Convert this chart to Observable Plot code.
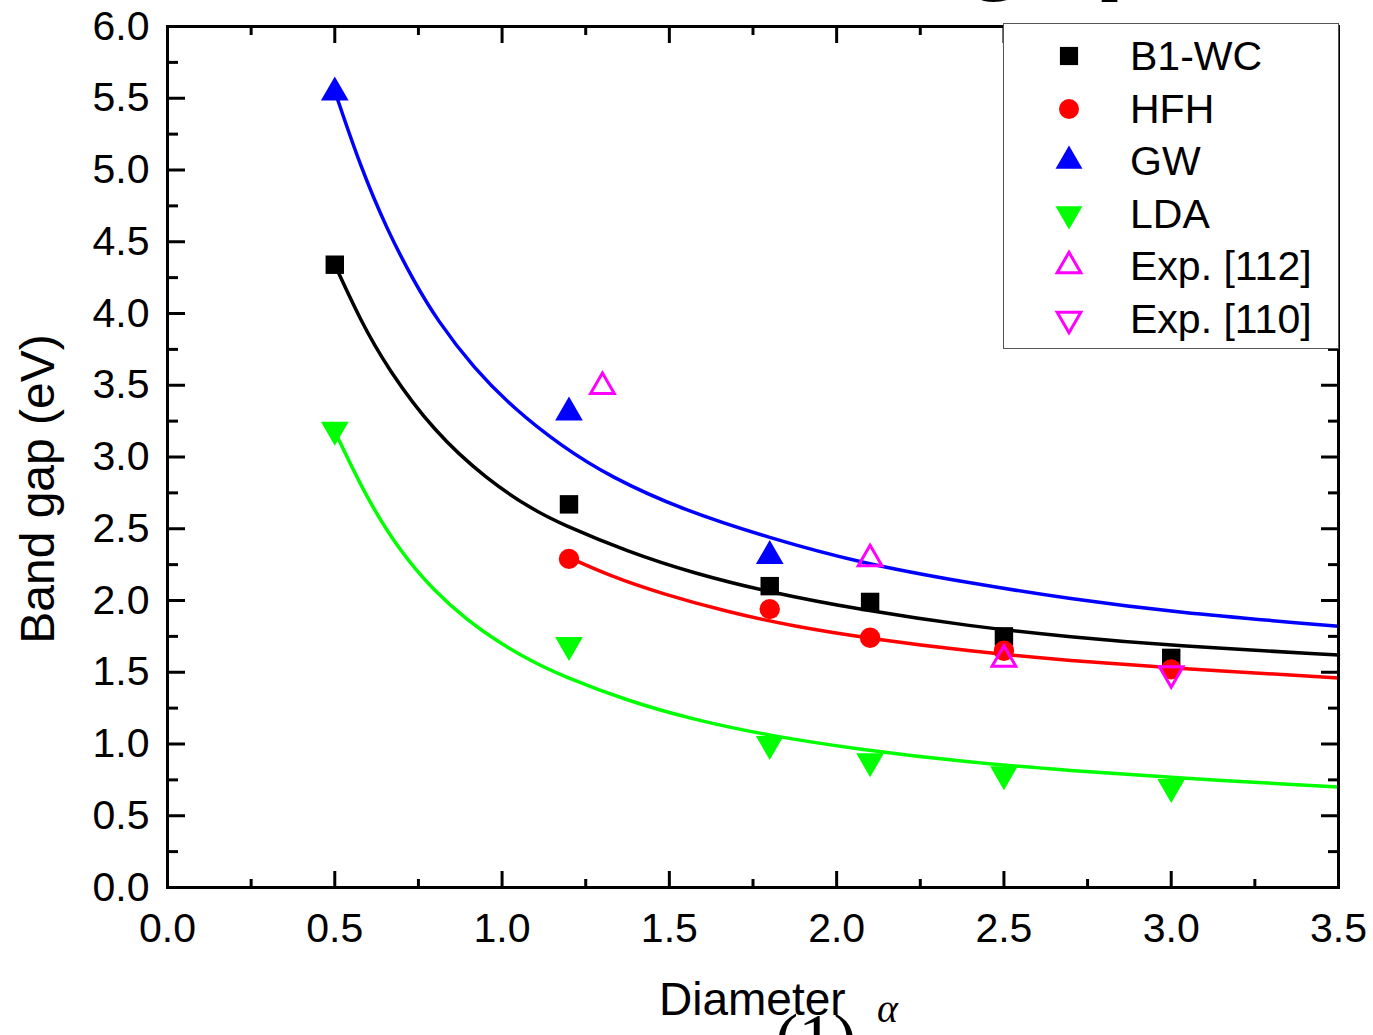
<!DOCTYPE html>
<html>
<head>
<meta charset="utf-8">
<script src="https://cdn.jsdelivr.net/npm/d3@7"></script>
<script src="https://cdn.jsdelivr.net/npm/@observablehq/plot@0.6"></script>
<style>
  body { margin: 0; background: #fff; }
  #wrap { position: relative; width: 1373px; height: 1035px; overflow: hidden; background: #fff;
          font-family: "Liberation Sans", Arial, sans-serif; color: #000; }
  #wrap svg.plot { position: absolute; left: 0; top: 0; }
  .legend { position: absolute; left: 1003px; top: 23px; width: 336px; height: 326px;
            box-sizing: border-box; border: 1px solid #555; background: #fff; }
  .legend .row { position: absolute; left: 0; width: 336px; height: 50px; }
  .legend .row svg { position: absolute; left: 45px; top: 5px; }
  .legend .row span { position: absolute; left: 126px; top: 0; line-height: 50px; font-size: 41px; white-space: nowrap; }
  .toptitle { position: absolute; left: 644px; top: -118px; font-size: 114px; font-weight: bold; line-height: 114px; white-space: nowrap; }
  .xlab { position: absolute; font-size: 46px; white-space: nowrap; }
  .paren { position: absolute; font-family: "Liberation Serif", "Times New Roman", serif; font-size: 70px; white-space: nowrap; }
  .alpha { position: absolute; font-family: "Liberation Serif", "Times New Roman", serif; font-style: italic; font-size: 40px; white-space: nowrap; }
</style>
</head>
<body>
<div id="wrap"></div>
<script>
// ---- data ----
const b1X = [0.5, 1.2, 1.8, 2.1, 2.5, 3.0];
const b1Y = [4.34, 2.67, 2.10, 1.99, 1.75, 1.60];
const hfhX = [1.2, 1.8, 2.1, 2.5, 3.0];
const hfhY = [2.29, 1.94, 1.74, 1.65, 1.52];
const gwX = [0.5, 1.2, 1.8];
const gwY = [5.54, 3.31, 2.31];
const ldaX = [0.5, 1.2, 1.8, 2.1, 2.5, 3.0];
const ldaY = [3.19, 1.69, 1.00, 0.88, 0.79, 0.70];
const exp112X = [1.3, 2.1, 2.5];
const exp112Y = [3.49, 2.29, 1.59];
const exp110X = [3.0];
const exp110Y = [1.49];

// fitted curves
const gwFitX = [0.5, 0.577, 0.657, 0.735, 0.807, 0.915, 1.034, 1.175, 1.324, 1.542, 1.793, 2.071, 2.40, 2.70, 3.00, 3.5];
const gwFitY = [5.55, 5.02, 4.58, 4.23, 3.95, 3.62, 3.34, 3.08, 2.86, 2.63, 2.44, 2.26, 2.12, 2.01, 1.92, 1.82];
const b1FitX = [0.5, 0.577, 0.657, 0.795, 0.956, 1.094, 1.175, 1.375, 1.572, 1.793, 2.071, 2.40, 2.70, 3.00, 3.5];
const b1FitY = [4.34, 3.95, 3.62, 3.18, 2.84, 2.63, 2.535, 2.34, 2.19, 2.06, 1.935, 1.82, 1.745, 1.685, 1.62];
const hfhFitX = [1.2, 1.324, 1.474, 1.674, 1.871, 2.10, 2.40, 2.70, 3.00, 3.5];
const hfhFitY = [2.30, 2.17, 2.05, 1.92, 1.82, 1.735, 1.645, 1.58, 1.53, 1.46];
const ldaFitX = [0.5, 0.598, 0.696, 0.795, 0.897, 0.995, 1.094, 1.175, 1.375, 1.572, 1.793, 2.071, 2.40, 2.70, 3.00, 3.5];
const ldaFitY = [3.18, 2.70, 2.34, 2.07, 1.86, 1.70, 1.57, 1.48, 1.30, 1.17, 1.06, 0.96, 0.87, 0.815, 0.765, 0.70];

const xMajor = [0, 0.5, 1.0, 1.5, 2.0, 2.5, 3.0, 3.5];
const xMinor = [0.25, 0.75, 1.25, 1.75, 2.25, 2.75, 3.25];
const yMajor = [0, 0.5, 1.0, 1.5, 2.0, 2.5, 3.0, 3.5, 4.0, 4.5, 5.0, 5.5, 6.0];
const yMinor = [0.25, 0.75, 1.25, 1.75, 2.25, 2.75, 3.25, 3.75, 4.25, 4.75, 5.25, 5.75];

const seriesNames = ["B1-WC", "HFH", "GW", "LDA", "Exp. [112]", "Exp. [110]"];
const seriesColors = ["#000000", "#ff0000", "#0000ff", "#00ff00", "#ff00ff", "#ff00ff"];

// ---- build tables ----
const zip = (xs, ys) => xs.map((x, i) => ({x, y: ys[i]}));
const b1 = zip(b1X, b1Y), hfh = zip(hfhX, hfhY), gw = zip(gwX, gwY), lda = zip(ldaX, ldaY);
const e112 = zip(exp112X, exp112Y), e110 = zip(exp110X, exp110Y);
const gwFit = zip(gwFitX, gwFitY), b1Fit = zip(b1FitX, b1FitY), hfhFit = zip(hfhFitX, hfhFitY), ldaFit = zip(ldaFitX, ldaFitY);

const lineOpts = (c) => ({x: "x", y: "y", stroke: c, strokeWidth: 3.5, curve: "basis"});
const tickOpts = (size) => ({stroke: "#000", fill: "none", strokeWidth: 3, tickSize: size, label: null});

const chart = Plot.plot({
  width: 1373,
  height: 1035,
  marginLeft: 167,
  marginRight: 35,
  marginTop: 26,
  marginBottom: 148,
  style: {fontFamily: "'Liberation Sans', Arial, sans-serif", fontSize: "40px", background: "transparent", color: "#000"},
  x: {domain: [0, 3.5]},
  y: {domain: [0, 6]},
  marks: [
    // fitted lines
    Plot.line(gwFit, lineOpts(seriesColors[2])),
    Plot.line(b1Fit, lineOpts(seriesColors[0])),
    Plot.line(hfhFit, lineOpts(seriesColors[1])),
    Plot.line(ldaFit, lineOpts(seriesColors[3])),
    // data points
    Plot.dot(b1, {x: "x", y: "y", symbol: "square", r: 10.4, fill: seriesColors[0], stroke: "none"}),
    Plot.dot(hfh, {x: "x", y: "y", symbol: "circle", r: 10.2, fill: seriesColors[1], stroke: "none"}),
    Plot.dot(gw, {x: "x", y: "y", symbol: "triangle", r: 10.3, fill: seriesColors[2], stroke: "none"}),
    Plot.dot(lda, {x: "x", y: "y", symbol: "triangle", rotate: 180, r: 10.3, fill: seriesColors[3], stroke: "none"}),
    Plot.dot(e112, {x: "x", y: "y", symbol: "triangle", r: 8.8, fill: "none", stroke: seriesColors[4], strokeWidth: 3}),
    Plot.dot(e110, {x: "x", y: "y", symbol: "triangle", rotate: 180, r: 8.8, fill: "none", stroke: seriesColors[5], strokeWidth: 3}),
    // frame
    Plot.frame({stroke: "#000", strokeWidth: 3}),
    // inward ticks: bottom, top, left, right
    Plot.axisX({ticks: xMajor, anchor: "top", frameAnchor: "bottom", ...tickOpts(17)}),
    Plot.axisX({ticks: xMinor, anchor: "top", frameAnchor: "bottom", ...tickOpts(9)}),
    Plot.axisX({ticks: xMajor, anchor: "bottom", frameAnchor: "top", ...tickOpts(17)}),
    Plot.axisX({ticks: xMinor, anchor: "bottom", frameAnchor: "top", ...tickOpts(9)}),
    Plot.axisY({ticks: yMajor, anchor: "right", frameAnchor: "left", ...tickOpts(17)}),
    Plot.axisY({ticks: yMinor, anchor: "right", frameAnchor: "left", ...tickOpts(10)}),
    Plot.axisY({ticks: yMajor, anchor: "left", frameAnchor: "right", ...tickOpts(17)}),
    Plot.axisY({ticks: yMinor, anchor: "left", frameAnchor: "right", ...tickOpts(10)}),
    // tick labels
    Plot.axisX({ticks: xMajor, anchor: "bottom", tickSize: 0, tickPadding: 25, stroke: "none", fill: "#000",
                fontSize: 41, tickFormat: d => d.toFixed(1), label: null}),
    Plot.axisY({ticks: yMajor, anchor: "left", tickSize: 0, tickPadding: 18, stroke: "none", fill: "#000",
                fontSize: 41, tickFormat: d => d.toFixed(1), label: null}),
    // y-axis title
    Plot.text(["Band gap (eV)"], {text: d => d, frameAnchor: "left", textAnchor: "middle", rotate: -90,
                                  dx: -129, dy: 32, fontSize: 48, fill: "#000"})
  ]
});
chart.classList.add("plot");

const wrap = document.getElementById("wrap");

// clipped big title at the very top
const tt = document.createElement("div");
tt.className = "toptitle";
tt.textContent = "Band gap";
wrap.appendChild(tt);

wrap.appendChild(chart);

// x-axis title and the clipped formula beneath it
const xl = document.createElement("div");
xl.className = "xlab";
xl.textContent = "Diameter";
xl.style.left = "659px"; xl.style.top = "972px";
wrap.appendChild(xl);

const pr = document.createElement("div");
pr.className = "paren";
pr.textContent = "(1)";
pr.style.left = "775px"; pr.style.top = "999px";
wrap.appendChild(pr);

const al = document.createElement("div");
al.className = "alpha";
al.textContent = "α";
al.style.left = "877px"; al.style.top = "985px";
wrap.appendChild(al);

// legend
const legend = document.createElement("div");
legend.className = "legend";
const rowCenters = [32, 84.5, 137, 189.5, 242, 294.5];
const symbolDefs = [
  {type: d3.symbolSquare, size: 330, rot: 0, fill: true},
  {type: d3.symbolCircle, size: 314, rot: 0, fill: true},
  {type: d3.symbolTriangle, size: 314, rot: 0, fill: true},
  {type: d3.symbolTriangle, size: 314, rot: 180, fill: true},
  {type: d3.symbolTriangle, size: 243, rot: 0, fill: false},
  {type: d3.symbolTriangle, size: 243, rot: 180, fill: false}
];
seriesNames.forEach((name, i) => {
  const row = document.createElement("div");
  row.className = "row";
  row.style.top = (rowCenters[i] - 25) + "px";
  const s = symbolDefs[i];
  const path = d3.symbol(s.type, s.size)();
  const c = seriesColors[i];
  row.innerHTML =
    `<svg width="40" height="40" viewBox="-20 -20 40 40"><path d="${path}" transform="rotate(${s.rot})" ` +
    (s.fill ? `fill="${c}" stroke="none"` : `fill="none" stroke="${c}" stroke-width="3"`) +
    `/></svg><span>${name}</span>`;
  legend.appendChild(row);
});
wrap.appendChild(legend);
</script>
</body>
</html>
